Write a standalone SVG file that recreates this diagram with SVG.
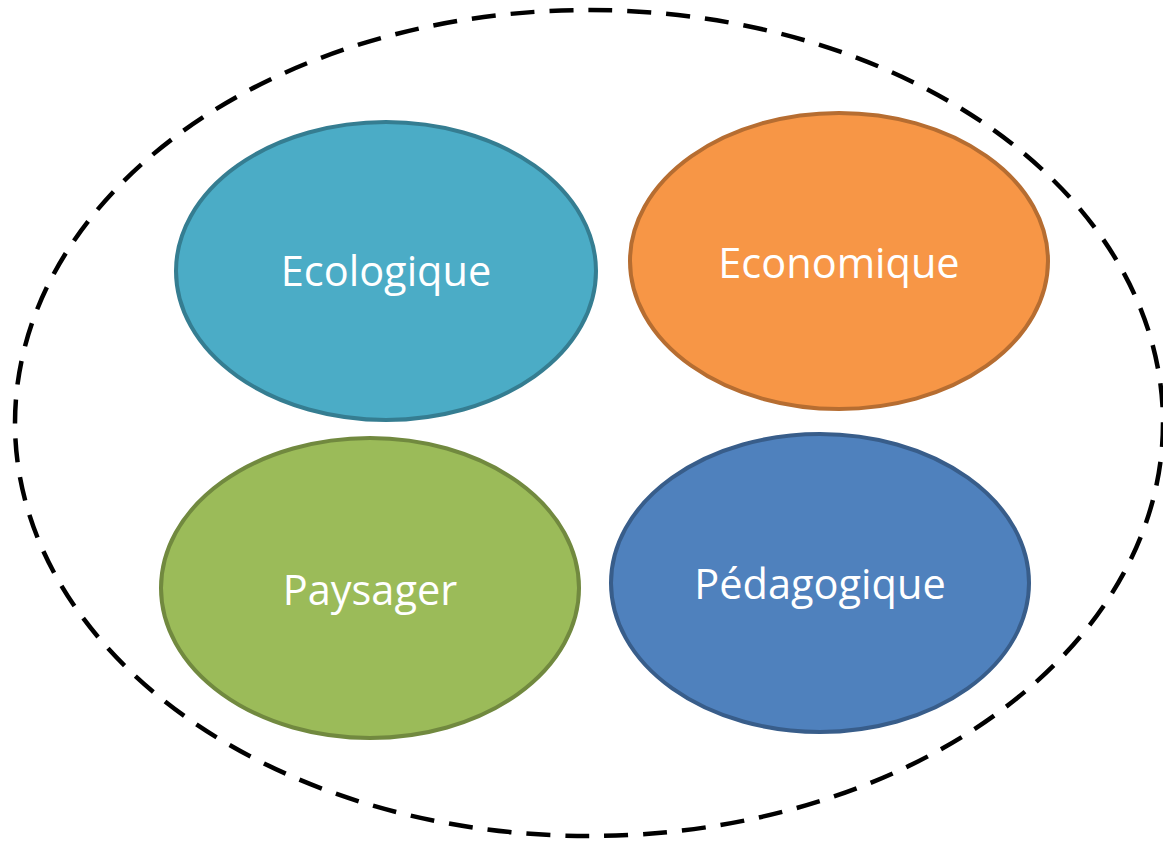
<svg xmlns="http://www.w3.org/2000/svg" width="1163" height="842" viewBox="0 0 1163 842">
<style>
.lbl{font-family:"Open Sans","Noto Sans",sans-serif;font-size:41.5px;fill:#ffffff;text-anchor:middle}
.n{stroke-width:4}
</style>
<rect width="1163" height="842" fill="#ffffff"/>
<g id="boundary">
<ellipse cx="589" cy="423" rx="574" ry="413" fill="none" stroke="#000" stroke-width="4.5" stroke-dasharray="24 15"/>
</g>
<g id="ecologique">
<ellipse class="n" cx="386" cy="271" rx="210" ry="149" fill="#4BACC6" stroke="#357D91"/>
<text class="lbl" x="386" y="286">Ecologique</text>
</g>
<g id="economique">
<ellipse class="n" cx="839" cy="261" rx="209" ry="148" fill="#F79646" stroke="#B66D31"/>
<text class="lbl" x="839" y="278">Economique</text>
</g>
<g id="paysager">
<ellipse class="n" cx="370" cy="588" rx="209" ry="150" fill="#9BBB59" stroke="#71893F"/>
<text class="lbl" x="370" y="605">Paysager</text>
</g>
<g id="pedagogique">
<ellipse class="n" cx="820" cy="583" rx="209" ry="149" fill="#4F81BD" stroke="#385D8A"/>
<text class="lbl" x="820" y="599">Pédagogique</text>
</g>
<g id="connectors"/>
</svg>
